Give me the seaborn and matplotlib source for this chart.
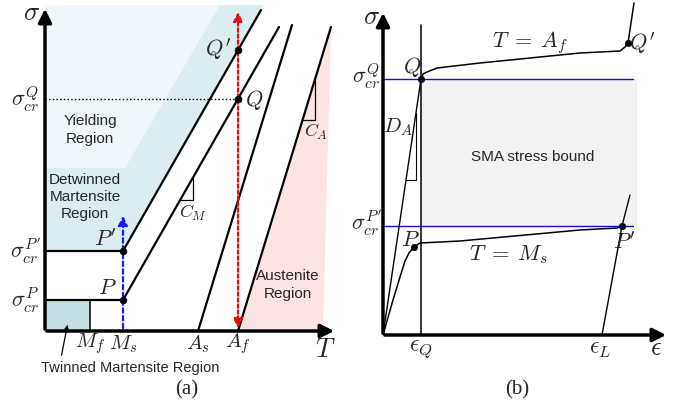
import numpy as np
import matplotlib
matplotlib.use("Agg")
import matplotlib.pyplot as plt
import seaborn as sns

# ---------- panel (a): phase diagram (T vs sigma) ----------
T_Mf, T_Ms, T_As, T_Af = 45, 78, 153, 193
sig_P, sig_Pp, sig_Q = 31, 80, 232
slope_M, slope_A = 1.748, 3.27

martP_T, martP_sig = [78, 234], [31, 304]
martPp_T, martPp_sig = [78, 216], [80, 321]
austS_T, austS_sig = [153, 247], [0, 306]
austF_T, austF_sig = [193, 286], [0, 304]

yield_T, yield_sig = [0, 80, 175, 0], [163, 163, 326, 326]
detw_T, detw_sig = [0, 78, 219, 0], [80, 80, 326, 326]
twin_T, twin_sig = [0, 45, 45, 0], [0, 0, 31, 31]
aust_T, aust_sig = [193, 278, 286], [0, 0, 304]

CM_T, CM_sig = [135, 148, 148], [131, 131, 153]
CA_T, CA_sig = [257.5, 270, 270], [211, 211, 252]

# ---------- panel (b): stress-strain ----------
eps_Q, eps_L = 38, 219
sb_Q, sb_Pp = 256, 109
Af_eps = [38, 40, 44, 54, 97, 197, 237, 242, 245, 251]
Af_sig = [256, 261, 263, 267, 272, 282, 284, 288, 292, 332]
Ms_eps = [0, 10, 17, 22, 26, 31, 37, 77, 197, 234, 239]
Ms_sig = [0, 35, 58, 74, 82, 88, 92, 94, 105, 107, 109]
DA_eps, DA_sig = [0, 38], [0, 256]
DAtri_eps, DAtri_sig = [23, 33, 33], [155, 155, 222]
L_eps, L_sig = [219, 239, 247], [0, 109, 140]

sns.set_style("white")
plt.rcParams['mathtext.fontset'] = 'cm'
plt.rcParams['font.family'] = ['Liberation Sans', 'DejaVu Sans']

W, H = 681, 412
fig = plt.figure(figsize=(6.81, 4.12), dpi=100)
axa = fig.add_axes([45 / W, 81 / H, 300 / W, 330 / H])
axb = fig.add_axes([383 / W, 77 / H, 290 / W, 334 / H])
axa.set_xlim(0, 300); axa.set_ylim(0, 330)
axb.set_xlim(0, 290); axb.set_ylim(0, 334)
for ax in (axa, axb):
    ax.axis('off')

# shading
axa.fill(detw_T, detw_sig, color='#dcedf2', lw=0)
axa.fill(yield_T, yield_sig, color='#eff7fa', lw=0)
axa.fill(twin_T, twin_sig, color='#c6dfe4', lw=0)
axa.fill(aust_T, aust_sig, color='#fde4e4', lw=0)

def seg(ax, x, y, lw=1.6, color='k', ls='-'):
    sns.lineplot(x=x, y=y, sort=False, estimator=None, color=color,
                 lw=lw, linestyle=ls, ax=ax)

for x, y in [(martP_T, martP_sig), (martPp_T, martPp_sig),
             (austS_T, austS_sig), (austF_T, austF_sig)]:
    seg(axa, x, y)
seg(axa, [0, T_Ms], [sig_P, sig_P])
seg(axa, [0, T_Ms], [sig_Pp, sig_Pp])
seg(axa, [T_Mf, T_Mf], [0, sig_P], lw=1.1)
seg(axa, [0, T_Af], [sig_Q, sig_Q], lw=1.0, ls=':')
seg(axa, CM_T, CM_sig, lw=0.9)
seg(axa, CA_T, CA_sig, lw=0.9)

# dashed arrows
axa.annotate('', xy=(T_Ms, 118), xytext=(T_Ms, 0),
             arrowprops=dict(arrowstyle='-|>', color='#1a1aff', lw=1.6,
                             linestyle=(0, (2, 1.5)), mutation_scale=14))
axa.annotate('', xy=(T_Af, 322), xytext=(T_Af, 0),
             arrowprops=dict(arrowstyle='<|-|>', color='#e31010', lw=1.6,
                             linestyle=(0, (1.5, 1.2)), mutation_scale=14))

sns.scatterplot(x=[T_Ms, T_Ms, T_Af, T_Af], y=[sig_P, sig_Pp, sig_Q, 281],
                color='k', s=25, ax=axa, zorder=5, edgecolor='k')

# axes arrows
axa.annotate('', xy=(0, 325), xytext=(0, -1),
             arrowprops=dict(arrowstyle='-|>', color='k', lw=2.5, mutation_scale=20))
axa.annotate('', xy=(292, 0), xytext=(-1, 0),
             arrowprops=dict(arrowstyle='-|>', color='k', lw=2.5, mutation_scale=20))

axa.text(-13, 318, r'$\sigma$', ha='center', va='center', fontsize=19)
axa.text(280, -19, r'$T$', ha='center', va='center', fontsize=19)
for lab, t in [('M_f', T_Mf), ('M_s', T_Ms), ('A_s', T_As), ('A_f', T_Af)]:
    axa.text(t, -13, rf'${lab}$', ha='center', va='center', fontsize=15)
for lab, s in [('Q', sig_Q), ("P'", sig_Pp), ('P', sig_P)]:
    axa.text(-20, s, rf'$\sigma_{{cr}}^{{{lab}}}$', ha='center', va='center', fontsize=16)
axa.text(72, 91, r"$P'$", ha='right', va='center', fontsize=16)
axa.text(72, 42, r"$P$", ha='right', va='center', fontsize=16)
axa.text(200, 231, r"$Q$", ha='left', va='center', fontsize=16)
axa.text(186, 282, r"$Q'$", ha='right', va='center', fontsize=16)
axa.text(148, 118, r"$C_M$", ha='center', va='center', fontsize=13)
axa.text(271, 199, r"$C_A$", ha='center', va='center', fontsize=13)
axa.text(45, 201, 'Yielding\nRegion', ha='center', va='center', fontsize=11, linespacing=1.3)
axa.text(40, 134, 'Detwinned\nMartensite\nRegion', ha='center', va='center', fontsize=11, linespacing=1.3)
axa.text(243, 46, 'Austenite\nRegion', ha='center', va='center', fontsize=11, linespacing=1.3)
axa.text(85, -37, 'Twinned Martensite Region', ha='center', va='center', fontsize=10.5)
axa.annotate('', xy=(23, 9), xytext=(16, -27), annotation_clip=False,
             arrowprops=dict(arrowstyle='-|>', color='k', lw=0.9, mutation_scale=9))
axa.text(142, -59, '(a)', ha='center', va='center', fontsize=15, family='Liberation Serif')

# ---------- panel (b) ----------
axb.fill([eps_Q, 254, 254, eps_Q], [sb_Pp, sb_Pp, sb_Q, sb_Q], color='#f2f2f2', lw=0)
seg(axb, [0, 250], [sb_Q, sb_Q], lw=1.0, color='#1010d0')
seg(axb, [0, 250], [sb_Pp, sb_Pp], lw=1.0, color='#1010d0')
seg(axb, [eps_Q, eps_Q], [0, 310], lw=1.1)
seg(axb, DA_eps, DA_sig, lw=1.0)
seg(axb, DAtri_eps, DAtri_sig, lw=0.8)
seg(axb, Af_eps, Af_sig, lw=1.1)
seg(axb, Ms_eps, Ms_sig, lw=1.1)
seg(axb, L_eps, L_sig, lw=1.0)
sns.scatterplot(x=[eps_Q, 245, 31, 239], y=[sb_Q, 292, 88, 109],
                color='k', s=22, ax=axb, zorder=5, edgecolor='k')

axb.annotate('', xy=(0, 325), xytext=(0, -1),
             arrowprops=dict(arrowstyle='-|>', color='k', lw=2.5, mutation_scale=20))
axb.annotate('', xy=(286, 0), xytext=(-1, 0),
             arrowprops=dict(arrowstyle='-|>', color='k', lw=2.5, mutation_scale=20))

axb.text(-11, 318, r'$\sigma$', ha='center', va='center', fontsize=19)
axb.text(273, -13, r'$\epsilon$', ha='center', va='center', fontsize=19)
axb.text(eps_Q, -14, r'$\epsilon_Q$', ha='center', va='center', fontsize=17)
axb.text(eps_L - 2, -14, r'$\epsilon_L$', ha='center', va='center', fontsize=17)
axb.text(-17, 259, r'$\sigma_{cr}^{Q}$', ha='center', va='center', fontsize=16)
axb.text(-17, 112, r"$\sigma_{cr}^{P'}$", ha='center', va='center', fontsize=16)
axb.text(29, 268, r'$Q$', ha='center', va='center', fontsize=16)
axb.text(259, 292, r"$Q'$", ha='center', va='center', fontsize=16)
axb.text(27, 94, r'$P$', ha='center', va='center', fontsize=16)
axb.text(241, 92, r"$P'$", ha='center', va='center', fontsize=16)
axb.text(147, 292, r'$T\;=\;A_f$', ha='center', va='center', fontsize=16)
axb.text(125, 80, r'$T\;=\;M_s$', ha='center', va='center', fontsize=16)
axb.text(15, 208, r'$D_A$', ha='center', va='center', fontsize=15)
axb.text(150, 178, 'SMA stress bound', ha='center', va='center', fontsize=11)
axb.text(134, -55, '(b)', ha='center', va='center', fontsize=15, family='Liberation Serif')

fig.savefig('out.png', dpi=100)
